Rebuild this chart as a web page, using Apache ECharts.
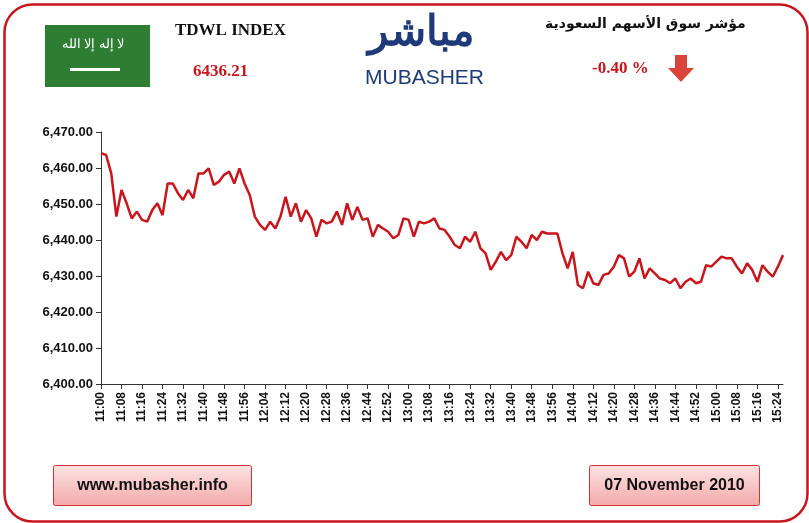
<!DOCTYPE html>
<html>
<head>
<meta charset="utf-8">
<script src="https://cdn.jsdelivr.net/npm/echarts@6/dist/echarts.min.js"></script>
<style>body{margin:0;background:#fff}#main{width:809px;height:523px}</style>
</head>
<body>
<div id="main"></div>
<script>
var values = [
 6464.1,6463.6,6458.5,6446.5,6453.9,6450.2,6446,6447.9,6445.6,6445.1,
 6448.3,6450.2,6446.9,6455.7,6455.7,6453,6451.1,6453.9,6451.6,6458.5,
 6458.5,6459.9,6455.3,6456.2,6458.1,6459,6455.7,6459.9,6455.7,6452.5,
 6446.5,6444.2,6442.8,6445.1,6443.2,6446.5,6452,6446.5,6450.2,6445.1,
 6448.3,6446,6440.9,6445.6,6444.6,6445.1,6447.9,6444.2,6450.2,
 6445.6,6449.2,6445.6,6446,6440.9,6444.2,6443.2,6442.3,6440.5,6441.4,
 6446,6445.6,6440.9,6445.1,6444.6,6445.1,6446,6443.2,6442.8,
 6440.9,6438.6,6437.7,6440.9,6439.5,6442.3,6437.7,6436.3,6431.7,6434,
 6436.7,6434.4,6435.8,6440.9,6439.5,6437.7,6441.4,6440,6442.3,6441.8,
 6441.8,6441.8,6436.3,6432.1,6436.7,6427.5,6426.6,6431.2,6428,6427.5,
 6430.3,6430.7,6432.6,6435.8,6434.9,6429.8,6431.2,6434.9,6429.3,6432.1,
 6430.7,6429.3,6428.9,6428,6429.3,6426.6,6428.4,6429.3,6428,
 6428.4,6433,6432.6,6434,6435.4,6434.9,6434.9,6432.6,6430.7,6433.5,
 6431.7,6428.4,6433,6431.2,6429.8,6432.6,6435.8
];
var times = [];
for (var i = 0; i < values.length; i++) {
  var m = 11 * 60 + i * 2;
  times.push(Math.floor(m / 60) + ':' + ('0' + (m % 60)).slice(-2));
}
var indexName = 'TDWL INDEX';
var indexValue = '6436.21';
var changeText = '-0.40 %';
var arabicTitle = 'مؤشر سوق الأسهم السعودية';
var dateText = '07 November 2010';
var siteText = 'www.mubasher.info';

var myChart = echarts.init(document.getElementById('main'));
var btn = function (x, w, label) {
  return {
    type: 'group', left: x, top: 465, children: [
      { type: 'rect', shape: { width: w, height: 40, r: 2 },
        style: { fill: new echarts.graphic.LinearGradient(0, 0, 0, 1, [{offset: 0, color: '#fde4e4'}, {offset: 1, color: '#f3a9a9'}]), stroke: '#c33', lineWidth: 1 } },
      { type: 'text', x: w / 2, y: 20, style: { text: label, fill: '#111', font: 'bold 16px "Liberation Sans", Arial', align: 'center', verticalAlign: 'middle' } }
    ]
  };
};
myChart.setOption({
  animation: false,
  grid: { left: 101, right: 26, top: 132, bottom: 139 },
  xAxis: {
    type: 'category', data: times, boundaryGap: false,
    axisLine: { lineStyle: { color: '#333' } },
    axisTick: { interval: 3, lineStyle: { color: '#333' } },
    axisLabel: { interval: 3, rotate: 90, color: '#111', fontWeight: 'bold', fontSize: 12, fontFamily: 'Liberation Sans' }
  },
  yAxis: {
    type: 'value', min: 6400, max: 6470, interval: 10,
    axisLine: { show: true, lineStyle: { color: '#333' } },
    axisTick: { show: true },
    splitLine: { show: false },
    axisLabel: { color: '#111', fontWeight: 'bold', fontSize: 13, fontFamily: 'Liberation Sans',
      formatter: function (v) { return v.toLocaleString('en-US', { minimumFractionDigits: 2 }); } }
  },
  series: [{ type: 'line', data: values, showSymbol: false, lineStyle: { color: '#c8161d', width: 2.5 } }],
  graphic: [
    { type: 'rect', left: 2, top: 2, shape: { width: 803, height: 517, r: 28 }, style: { fill: 'none', stroke: '#c8161d', lineWidth: 2.5 } },
    { type: 'rect', left: 45, top: 25, shape: { width: 105, height: 62 }, style: { fill: '#2e7d32' } },
    { type: 'text', left: 62, top: 38, style: { text: 'لا إله إلا الله', fill: '#fff', font: '13px "Noto Sans"' } },
    { type: 'rect', left: 70, top: 68, shape: { width: 50, height: 3 }, style: { fill: '#fff' } },
    { type: 'text', left: 175, top: 22, style: { text: indexName, fill: '#111', font: 'bold 17px "Liberation Serif"' } },
    { type: 'text', left: 193, top: 63, style: { text: indexValue, fill: '#c8161d', font: 'bold 17px "Liberation Serif"' } },
    { type: 'text', left: 368, top: 12, style: { text: 'مباشر', fill: '#1f3a78', font: 'bold 42px "Noto Sans"' } },
    { type: 'text', left: 365, top: 68, style: { text: 'MUBASHER', fill: '#1f3a78', font: '21px "Liberation Sans"' } },
    { type: 'text', left: 545, top: 17, style: { text: arabicTitle, fill: '#111', font: 'bold 14px "DejaVu Sans"' } },
    { type: 'text', left: 592, top: 60, style: { text: changeText, fill: '#c8161d', font: 'bold 17px "Liberation Serif"' } },
    { type: 'polygon', shape: { points: [[675, 55], [687, 55], [687, 68], [694, 68], [681, 82], [668, 68], [675, 68]] }, style: { fill: '#d9433a' } },
    btn(53, 198, siteText),
    btn(589, 170, dateText)
  ]
});
</script>
</body>
</html>
